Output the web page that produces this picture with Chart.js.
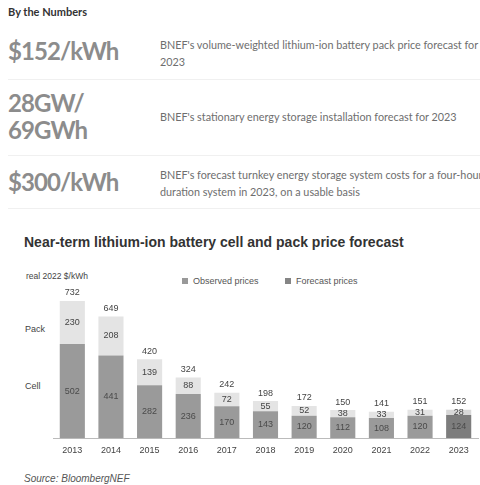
<!DOCTYPE html>
<html>
<head>
<meta charset="utf-8">
<script src="https://cdn.jsdelivr.net/npm/chart.js@4.4.0/dist/chart.umd.min.js"></script>
<style>
  body { margin: 0; width: 480px; height: 485px; overflow: hidden; background: #fff; position: relative; font-family: Lato, "Open Sans", sans-serif; }
  .abs { position: absolute; white-space: nowrap; }
  .head { left: 8px; top: 5px; font-weight: 700; font-size: 11px; color: #333; }
  .big { left: 8px; font-weight: 700; font-size: 24px; line-height: 27px; color: #8c8c8c; letter-spacing: -0.9px; }
  .desc { left: 160px; font-size: 10.8px; line-height: 17px; color: #6e6e6e; }
  .rule { left: 8px; right: 0; height: 1px; background: #f0f0f0; }
  .ch { font-family: "Liberation Sans", Arial, sans-serif; color: #444; }
  .title { left: 24px; top: 234px; font-size: 14px; font-weight: 700; color: #333; }
  .unit { left: 26px; top: 271px; font-size: 8.5px; }
  .leg { top: 276px; font-size: 9px; color: #555; }
  .leg i { display: inline-block; width: 6px; height: 6px; margin-right: 5px; vertical-align: 0px; }
  .side { left: 25px; font-size: 9px; }
  .src { left: 24px; top: 473px; font-size: 10px; font-style: italic; color: #555; }
  #wrap { position: absolute; left: 0; top: 285px; width: 480px; height: 181px; }
</style>
</head>
<body>
<div class="abs head">By the Numbers</div>

<div class="abs big" style="top:37px">$152/kWh</div>
<div class="abs desc" style="top:36px">BNEF's volume-weighted lithium-ion battery pack price forecast for<br>2023</div>
<div class="abs rule" style="top:79px"></div>

<div class="abs big" style="top:89px">28GW/<br>69GWh</div>
<div class="abs desc" style="top:108px">BNEF's stationary energy storage installation forecast for 2023</div>
<div class="abs rule" style="top:155px"></div>

<div class="abs big" style="top:168px">$300/kWh</div>
<div class="abs desc" style="top:166px">BNEF's forecast turnkey energy storage system costs for a four-hour<br>duration system in 2023, on a usable basis</div>
<div class="abs rule" style="top:208px"></div>

<div class="abs ch title">Near-term lithium-ion battery cell and pack price forecast</div>
<div class="abs ch unit">real 2022 $/kWh</div>
<div class="abs ch leg" style="left:182px"><i style="background:#999"></i>Observed prices</div>
<div class="abs ch leg" style="left:285px"><i style="background:#858585"></i>Forecast prices</div>
<div class="abs ch side" style="top:324px">Pack</div>
<div class="abs ch side" style="top:381px">Cell</div>
<div class="abs ch src">Source: BloombergNEF</div>

<div id="wrap"><canvas id="priceChart"></canvas></div>

<script>
const years = ['2013', '2014', '2015', '2016', '2017', '2018', '2019', '2020', '2021', '2022', '2023'];
const cellPrice = [502, 441, 282, 236, 170, 143, 120, 112, 108, 120, 124];
const packPrice = [230, 208, 139, 88, 72, 55, 52, 38, 33, 31, 28];
const packTotal = [732, 649, 420, 324, 242, 198, 172, 150, 141, 151, 152];
const forecastYears = ['2023'];

const isForecast = (i) => forecastYears.includes(years[i]);

// numbers inside each segment and totals on top
const valueLabels = {
  id: 'valueLabels',
  afterDatasetsDraw(chart) {
    const ctx = chart.ctx;
    ctx.save();
    ctx.font = '9px "Liberation Sans", Arial, sans-serif';
    ctx.textAlign = 'center';
    ctx.textBaseline = 'middle';
    chart.data.datasets.forEach((ds, i) => {
      ctx.fillStyle = i === 0 ? '#4a4a4a' : '#444';
      chart.getDatasetMeta(i).data.forEach((bar, j) => {
        ctx.fillText(ds.data[j], bar.x, (bar.y + bar.base) / 2);
      });
    });
    ctx.fillStyle = '#444';
    chart.getDatasetMeta(1).data.forEach((bar, j) => {
      ctx.fillText(packTotal[j], bar.x, bar.y - 8);
    });
    ctx.restore();
  }
};

new Chart(document.getElementById('priceChart'), {
  type: 'bar',
  data: {
    labels: years,
    datasets: [
      { label: 'Cell', data: cellPrice, backgroundColor: ctx => isForecast(ctx.dataIndex) ? '#7d7d7d' : '#9a9a9a' },
      { label: 'Pack', data: packPrice, backgroundColor: ctx => isForecast(ctx.dataIndex) ? '#d8d8d8' : '#e4e4e4' }
    ]
  },
  options: {
    responsive: true,
    maintainAspectRatio: false,
    animation: false,
    categoryPercentage: 1,
    barPercentage: 0.65,
    layout: { padding: { left: 53, right: 2, top: 5, bottom: 3 } },
    plugins: { legend: { display: false }, tooltip: { enabled: false } },
    scales: {
      x: {
        stacked: true,
        grid: { display: false, drawTicks: false },
        border: { display: true, color: '#bbb', dash: [1, 4] },
        ticks: { color: '#444', padding: 7, font: { family: '"Liberation Sans", Arial, sans-serif', size: 9 } }
      },
      y: { stacked: true, display: false, min: 0, max: 790 }
    }
  },
  plugins: [valueLabels]
});
</script>
</body>
</html>
